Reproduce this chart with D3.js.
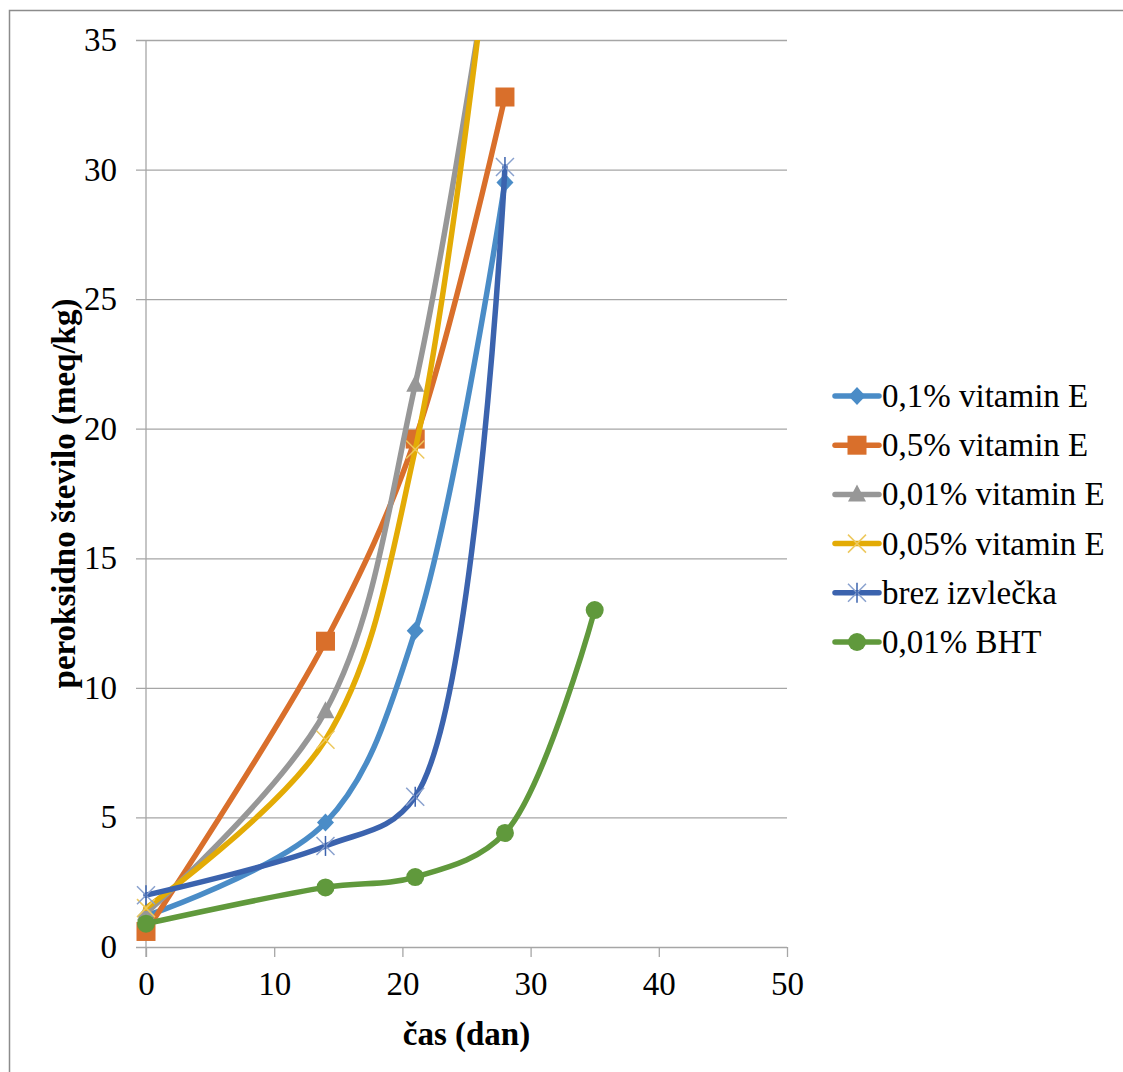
<!DOCTYPE html>
<html>
<head>
<meta charset="utf-8">
<script src="https://cdn.jsdelivr.net/npm/d3@7/dist/d3.min.js"></script>
<style>
  html, body { margin: 0; padding: 0; background: #fff; }
  svg { display: block; }
  text { font-family: "Times New Roman", "Liberation Serif", serif; fill: #000; }
</style>
</head>
<body>
<svg id="chart" width="1123" height="1072"></svg>
<script>
// Peroxide value (meq/kg) over storage time (days)
const seriesNames = ["0,1% vitamin E", "0,5% vitamin E", "0,01% vitamin E", "0,05% vitamin E", "brez izvlečka", "0,01% BHT"];
const seriesColors = ["#4a8cc7", "#d96f2b", "#979797", "#e3ab05", "#3b63ae", "#60993c"];
const seriesMarkers = ["diamond", "square", "triangle", "cross", "star", "circle"];

const daysVitE01 = [0, 14, 21, 28];
const valsVitE01 = [1.2, 4.8, 12.2, 29.5];
const daysVitE05 = [0, 14, 21, 28];
const valsVitE05 = [0.6, 11.8, 19.6, 32.8];
const daysVitE001 = [0, 14, 21, 28];
const valsVitE001 = [1.3, 9.1, 21.7, 42.0];
const daysVitE005 = [0, 14, 21, 28];
const valsVitE005 = [1.5, 8.0, 19.2, 44.0];
const daysControl = [0, 14, 21, 28];
const valsControl = [2.0, 3.9, 5.8, 30.1];
const daysBHT = [0, 14, 21, 28, 35];
const valsBHT = [0.9, 2.3, 2.7, 4.4, 13.0];

const xTicks = [0, 10, 20, 30, 40, 50];
const yTicks = [0, 5, 10, 15, 20, 25, 30, 35];
const xTitle = "čas (dan)";
const yTitle = "peroksidno število (meq/kg)";

const allDays = [daysVitE01, daysVitE05, daysVitE001, daysVitE005, daysControl, daysBHT];
const allVals = [valsVitE01, valsVitE05, valsVitE001, valsVitE005, valsControl, valsBHT];
const series = seriesNames.map((name, i) => ({
  name, color: seriesColors[i], marker: seriesMarkers[i],
  points: allDays[i].map((d, j) => ({ x: d, y: allVals[i][j] }))
}));

const FONT = "'Times New Roman', 'Liberation Serif', serif";
const FS = 33;

const svg = d3.select("#chart");
const plot = { left: 146, right: 787, top: 40, bottom: 947 };
const x = d3.scaleLinear().domain([0, 50]).range([plot.left, plot.right]);
const y = d3.scaleLinear().domain([0, 35]).range([plot.bottom, plot.top]);

// outer frame
svg.append("rect")
  .attr("x", 9.5).attr("y", 10.5).attr("width", 1200).attr("height", 1200)
  .attr("fill", "none").attr("stroke", "#8c8c8c").attr("stroke-width", 1.5);

// horizontal gridlines with left tick extension
const yAxis = d3.axisLeft(y).tickValues(yTicks).tickSize(plot.right - plot.left + 10).tickPadding(19).tickFormat(d3.format("d"));
const gy = svg.append("g").attr("transform", `translate(${plot.right},0)`).call(yAxis);
gy.select(".domain").remove();
gy.selectAll(".tick line").attr("stroke", "#a6a6a6").attr("stroke-width", 1.3);
gy.selectAll(".tick text").attr("font-size", FS).attr("font-family", FONT).attr("fill", "#000");

// x axis ticks below the baseline
const xAxis = d3.axisBottom(x).tickValues(xTicks).tickSize(10).tickPadding(15).tickFormat(d3.format("d"));
const gx = svg.append("g").attr("transform", `translate(0,${plot.bottom})`).call(xAxis);
gx.select(".domain").remove();
gx.selectAll(".tick line").attr("stroke", "#a6a6a6").attr("stroke-width", 1.3);
gx.selectAll(".tick text").attr("font-size", FS).attr("font-family", FONT).attr("fill", "#000");

// vertical axis line
svg.append("line")
  .attr("x1", x(0)).attr("x2", x(0)).attr("y1", plot.top).attr("y2", plot.bottom + 10)
  .attr("stroke", "#a6a6a6").attr("stroke-width", 1.3);

// axis titles
svg.append("text")
  .attr("x", (plot.left + plot.right) / 2).attr("y", 1045)
  .attr("text-anchor", "middle").attr("font-size", FS).attr("font-weight", "bold")
  .text(xTitle);
svg.append("text")
  .attr("transform", `translate(75,${(plot.top + plot.bottom) / 2}) rotate(-90)`)
  .attr("text-anchor", "middle").attr("font-size", FS).attr("font-weight", "bold")
  .text(yTitle);

// clip for lines
svg.append("defs").append("clipPath").attr("id", "plotClip")
  .append("rect").attr("x", plot.left - 20).attr("y", plot.top)
  .attr("width", plot.right - plot.left + 40).attr("height", plot.bottom - plot.top + 20);

const line = d3.line().x(d => x(d.x)).y(d => y(d.y)).curve(d3.curveCatmullRom.alpha(0.5));

function lighten(c, k) { return d3.interpolateRgb(c, "#ffffff")(k); }

function drawMarker(g, type, color, cx, cy) {
  const m = g.append("g").attr("transform", `translate(${cx},${cy})`);
  if (type === "diamond") {
    m.append("path").attr("d", "M0,-9L8.5,0L0,9L-8.5,0Z").attr("fill", color);
  } else if (type === "square") {
    m.append("rect").attr("x", -9.5).attr("y", -9.5).attr("width", 19).attr("height", 19).attr("fill", color);
  } else if (type === "triangle") {
    m.append("path").attr("d", "M0,-10L9,7L-9,7Z").attr("fill", color);
  } else if (type === "circle") {
    m.append("circle").attr("r", 9).attr("fill", color);
  } else if (type === "cross") {
    m.append("path").attr("d", "M-9,-9L9,9M-9,9L9,-9").attr("stroke", lighten(color, 0.35)).attr("stroke-width", 1.5).attr("fill", "none");
  } else if (type === "star") {
    m.append("path").attr("d", "M-9,-9L9,9M-9,9L9,-9").attr("stroke", lighten(color, 0.4)).attr("stroke-width", 1.5).attr("fill", "none");
    m.append("path").attr("d", "M0,-10L0,10").attr("stroke", color).attr("stroke-width", 1.5).attr("fill", "none");
  }
}

// series: line then markers, drawn in legend order
series.forEach(s => {
  const g = svg.append("g");
  g.append("path")
    .attr("d", line(s.points))
    .attr("fill", "none").attr("stroke", s.color).attr("stroke-width", 5.5)
    .attr("stroke-linejoin", "round").attr("stroke-linecap", "round")
    .attr("clip-path", "url(#plotClip)");
  s.points.filter(p => p.y <= 35).forEach(p => drawMarker(g, s.marker, s.color, x(p.x), y(p.y)));
});

// legend
const legend = svg.append("g");
series.forEach((s, i) => {
  const cy = 396 + i * 49.2;
  const row = legend.append("g");
  row.append("line").attr("x1", 835).attr("x2", 879).attr("y1", cy).attr("y2", cy)
    .attr("stroke", s.color).attr("stroke-width", 5.5).attr("stroke-linecap", "round");
  drawMarker(row, s.marker, s.color, 857, cy);
  row.append("text").attr("x", 882).attr("y", cy + 11).attr("font-size", FS).text(s.name);
});
</script>
</body>
</html>
